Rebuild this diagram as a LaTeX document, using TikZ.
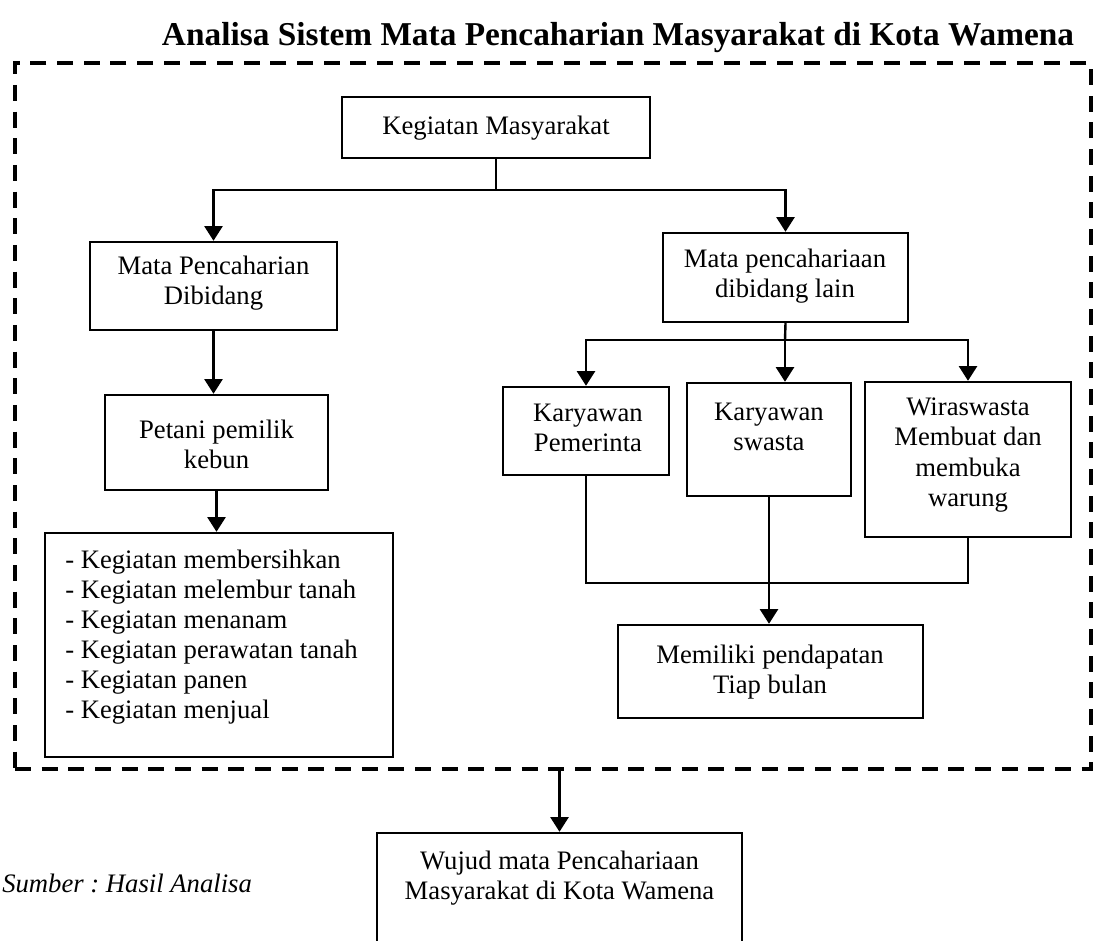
\documentclass[tikz,border=0pt]{standalone}
\usepackage{fontspec}
\setmainfont{Liberation Serif}
\usetikzlibrary{arrows.meta,fit}
\frenchspacing
\begin{document}
\begin{tikzpicture}[x=0.75pt,y=-0.75pt,
  box/.style={draw,line width=1.8pt,inner sep=0pt},
  frame/.style={draw,line width=3.2pt,dash pattern=on 12pt off 8pt,inner sep=0pt},
  txt/.style={align=center,inner sep=0pt,font=\fontsize{20}{22.6}\selectfont},
  link/.style={line width=1.8pt},
  arr/.style={line width=1.8pt,-{Triangle[width=13.5pt,length=11pt]}},
]
\useasboundingbox (0,0) rectangle (1096,941);

% heading
\node[txt,font=\fontsize{25}{30}\selectfont\bfseries] (title) at (618,38)
  {Analisa Sistem Mata Pencaharian Masyarakat di Kota Wamena};

% dashed enclosure
\node[frame,fit={(15,63) (1091,769)}] (frame) {};

% boxes
\node[box,fit={(342,97) (650,158)}] (kgm) {};
\node[txt] (kgmt) at (496,128) {Kegiatan Masyarakat};

\node[box,fit={(90,242) (337,330)}] (mpd) {};
\node[txt] (mpdt) at (213.5,283) {Mata Pencaharian\\Dibidang};

\node[box,fit={(105,395) (328,490)}] (pet) {};
\node[txt] (pett) at (216.5,444) {Petani pemilik\\kebun};

\node[box,fit={(45,533) (393,757)}] (keg) {};
\node[txt,align=left,anchor=west] (kegt) at (65,637)
  {- Kegiatan membersihkan\\- Kegiatan melembur tanah\\- Kegiatan menanam\\- Kegiatan perawatan tanah\\- Kegiatan panen\\- Kegiatan menjual};

\node[box,fit={(663,233) (908,322)}] (mpl) {};
\node[txt] (mplt) at (785,276) {Mata pencahariaan\\dibidang lain};

\node[box,fit={(503,387) (669,475)}] (kp) {};
\node[txt] (kpt) at (588,428) {Karyawan\\Pemerinta};

\node[box,fit={(687,383) (851,496)}] (ks) {};
\node[txt] (kst) at (769,427) {Karyawan\\swasta};

\node[box,fit={(865,382) (1071,537)}] (wr) {};
\node[txt] (wrt) at (968,455) {Wiraswasta\\Membuat dan\\membuka\\warung};

\node[box,fit={(618,625) (923,718)}] (mem) {};
\node[txt] (memt) at (770,672) {Memiliki pendapatan\\Tiap bulan};

\node[box,fit={(377,833) (742,975)}] (wj) {};
\node[txt] (wjt) at (559.5,878) {Wujud mata Pencahariaan\\Masyarakat di Kota Wamena};

\node[txt,font=\fontsize{20}{22.6}\selectfont\itshape,anchor=west] (src) at (2,883)
  {Sumber : Hasil Analisa};

% connectors
\coordinate (sp1) at (496,190);
\draw[link] (kgm.south) -- (sp1);
\draw[arr] (sp1) -| (mpd.north);
\draw[arr] (sp1) -| (mpl.north);
\draw[arr] (mpd.south) -- (mpd.south |- pet.north);
\draw[arr] (pet.south) -- (pet.south |- keg.north);

\coordinate (sp2) at (785,340);
\draw[link] (mpl.south) -- (sp2);
\draw[arr] (sp2) -| (kp.north);
\draw[arr] (sp2) -- (sp2 |- ks.north);
\draw[arr] (sp2) -| (wr.north);

\coordinate (jn) at (768,583);
\draw[link] (kp.south) |- (jn) -| (wr.south);
\draw[arr] (ks.south) -- (ks.south |- mem.north);

\draw[arr] (wj.north |- frame.south) -- (wj.north);
\end{tikzpicture}
\end{document}
